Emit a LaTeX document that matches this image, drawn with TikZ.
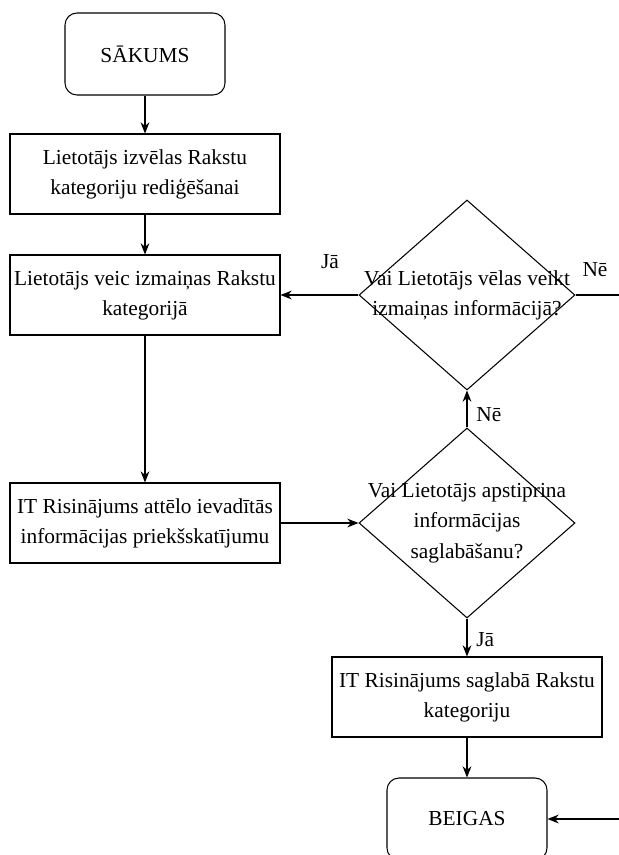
\documentclass[tikz,border=0pt]{standalone}
\usepackage{fontspec}
\setmainfont{Liberation Serif}
\usetikzlibrary{arrows.meta,positioning,shapes.geometric}

\begin{document}
\begin{tikzpicture}[>=Stealth,
  every node/.style={font=\fontsize{15.2}{21.5}\selectfont},
  termbox/.style={draw=black,line width=0.75pt,rounded corners=0.3cm,minimum width=4cm,minimum height=2.05cm,align=center},
  procbox/.style={draw=black,line width=0.75pt,minimum width=6.75cm,minimum height=2cm,align=center,inner sep=1pt},
  decbox/.style={draw=black,line width=0.75pt,diamond,minimum width=5.4cm,minimum height=4.75cm,inner sep=0pt},
  dectext/.style={align=center,inner sep=0pt},
  flow/.style={line width=0.75pt,-{Stealth[length=2.8mm,width=2.2mm]}}]
\useasboundingbox (0,0) rectangle (15.475,-21.375);
% terminals and steps
\node[termbox] (start) at (3.625,-1.35) {SĀKUMS};
\node[procbox] (sel) at (3.625,-4.35) {Lietotājs izvēlas Rakstu\\kategoriju rediģēšanai};
\node[procbox] (edit) at (3.625,-7.375) {Lietotājs veic izmaiņas Rakstu\\kategorijā};
\node[procbox] (prev) at (3.625,-13.075) {IT Risinājums attēlo ievadītās\\informācijas priekšskatījumu};
\node[procbox] (save) at (11.675,-17.425) {IT Risinājums saglabā Rakstu\\kategoriju};
\node[termbox] (end) at (11.675,-20.475) {BEIGAS};
% decisions
\node[decbox] (q1) at (11.675,-7.375) {};
\node[dectext] (q1_txt) at (q1) {Vai Lietotājs vēlas veikt\\izmaiņas informācijā?};
\node[decbox] (q2) at (11.675,-13.075) {};
\node[dectext] (q2_txt) at (q2) {Vai Lietotājs apstiprina\\informācijas\\saglabāšanu?};
% loose ends on the right
\coordinate (q1_out) at (15.475,-7.375);
\coordinate (end_in) at (15.475,-20.475);
% connectors
\draw[flow] (start.south)--(sel.north);
\draw[flow] (sel.south)--(edit.north);
\draw[flow] (edit.south)--(prev.north);
\draw[flow] (prev.east)--(q2.west);
\draw[flow] (q2.north)--(q1.south) node[pos=0.35,right=3pt] (l_ne2) {Nē};
\draw[flow] (q2.south)--(save.north) node[pos=0.55,right=3pt] (l_ja2) {Jā};
\draw[flow] (q1.west)--(edit.east);
\node (l_ja1) at (8.25,-6.55) {Jā};
\draw[line width=0.75pt] (q1.east)--(q1_out);
\node (l_ne1) at (14.875,-6.75) {Nē};
\draw[flow] (save.south)--(end.north);
\draw[flow] (end_in)--(end.east);
\end{tikzpicture}
\end{document}
